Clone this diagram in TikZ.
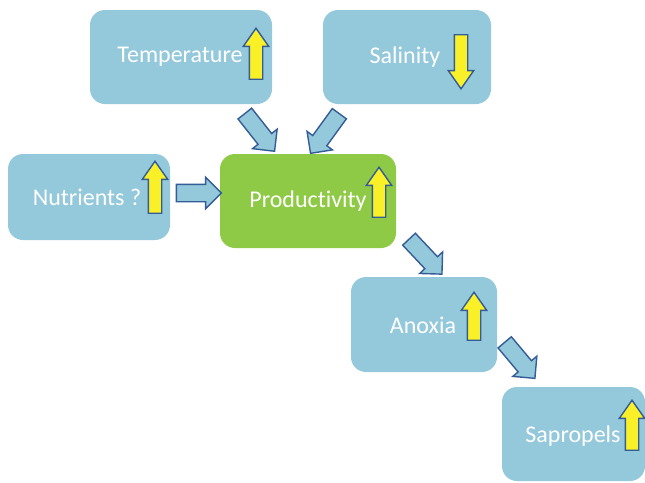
\documentclass[tikz,border=0pt]{standalone}
\usepackage{fontspec}
\setmainfont{Carlito}[Ligatures=NoCommon]
\usetikzlibrary{shapes.arrows}
\definecolor{boxblue}{RGB}{148,200,219}
\definecolor{boxgreen}{RGB}{142,202,70}
\definecolor{edgeblue}{RGB}{52,92,150}
\definecolor{upyellow}{RGB}{250,240,40}
\begin{document}
\begin{tikzpicture}[x=1pt,y=-1pt,
  factor/.style={rounded corners=15pt, fill=boxblue, inner sep=0pt},
  central/.style={factor, fill=boxgreen},
  caption/.style={text=white, font=\fontsize{24}{28}\selectfont, inner sep=0pt},
  trend/.style={single arrow, draw=edgeblue, line width=1.4pt, fill=upyellow,
    inner xsep=0pt, inner ysep=6pt, single arrow head extend=6pt,
    single arrow tip angle=70},
  link/.style={single arrow, draw=edgeblue, line width=1.4pt, fill=boxblue,
    inner xsep=0pt, inner ysep=8pt, single arrow head extend=7pt,
    single arrow tip angle=90}]
\useasboundingbox (0,0) rectangle (645,482);

% factor boxes
\node[factor, minimum width=182pt, minimum height=94pt] (temp) at (181,57) {};
\node[factor, minimum width=168pt, minimum height=94pt] (sal) at (407,57) {};
\node[factor, minimum width=162pt, minimum height=86pt] (nut) at (89,197) {};
\node[central, minimum width=176pt, minimum height=94pt] (prod) at (308,201) {};
\node[factor, minimum width=146pt, minimum height=95pt] (anox) at (424,324.5) {};
\node[factor, minimum width=143pt, minimum height=94pt] (sap) at (573.5,434) {};

% box texts
\node[caption] (tempT) at (180,57) {Temperature};
\node[caption] (salT) at (405,57) {Salinity};
\node[caption] (nutT) at (87,197) {Nutrients ?};
\node[caption] (prodT) at (308,201) {Productivity};
\node[caption] (anoxT) at (423,325) {Anoxia};
\node[caption] (sapT) at (573,436) {Sapropels};

% trend arrows
\node[trend, minimum height=51pt, rotate=90] (tempA) at (256,58.5) {};
\node[trend, minimum height=54pt, rotate=-90] (salA) at (461,57) {};
\node[trend, minimum height=52pt, rotate=90] (nutA) at (155,192) {};
\node[trend, minimum height=50pt, rotate=90] (prodA) at (379,197) {};
\node[trend, minimum height=48pt, rotate=90] (anoxA) at (474,321) {};
\node[trend, minimum height=50pt, rotate=90] (sapA) at (632,430) {};

% links between boxes
\node[link, minimum height=48pt, rotate=-51.7] (l1) at (257,129) {};
\node[link, minimum height=49pt, rotate=-126] (l2) at (327.5,130) {};
\node[link, minimum height=45pt, rotate=0] (l3) at (194.5,193) {};
\node[link, minimum height=48pt, rotate=-46.7] (l4) at (422.5,253.5) {};
\node[link, minimum height=47pt, rotate=-50] (l5) at (517,357) {};
\end{tikzpicture}
\end{document}
